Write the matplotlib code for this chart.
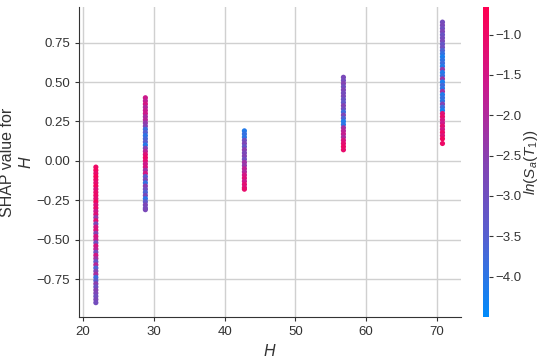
import matplotlib
matplotlib.use("Agg")
import matplotlib.pyplot as plt
from matplotlib.colors import LinearSegmentedColormap

# --- dados ---
x_niveis = [21.8, 28.8, 42.8, 56.8, 70.8]

y22 = [-0.04, -0.06, -0.08, -0.10, -0.12, -0.14, -0.16, -0.18, -0.20, -0.22,
       -0.24, -0.26, -0.28, -0.30, -0.32, -0.34, -0.36, -0.38, -0.40, -0.42,
       -0.44, -0.46, -0.48, -0.50, -0.52, -0.54, -0.56, -0.58, -0.60, -0.62,
       -0.64, -0.66, -0.68, -0.70, -0.72, -0.74, -0.76, -0.78, -0.80, -0.82,
       -0.84, -0.86, -0.88, -0.90]
c22 = [-1.0, -0.9, -1.1, -0.8, -1.0, -1.2, -0.9, -1.3, -1.1, -1.0,
       -1.2, -0.9, -1.4, -1.1, -1.6, -1.3, -2.4, -1.2, -2.8, -1.5,
       -1.3, -2.6, -1.4, -1.7, -3.0, -1.4, -1.8, -2.9, -1.5, -2.2,
       -3.2, -1.9, -3.6, -2.7, -2.1, -3.8, -3.4, -2.5, -3.1, -2.6,
       -2.7, -3.0, -2.8, -2.9]

y29 = [0.40, 0.38, 0.36, 0.34, 0.32, 0.30, 0.28, 0.26, 0.24, 0.22, 0.20,
       0.18, 0.16, 0.14, 0.12, 0.10, 0.08, 0.06, 0.04, 0.02, 0.00, -0.02,
       -0.04, -0.06, -0.08, -0.10, -0.12, -0.14, -0.16, -0.18, -0.20, -0.22,
       -0.24, -0.26, -0.28, -0.30, -0.31]
c29 = [-1.6, -1.8, -1.5, -2.0, -1.7, -1.6, -2.1, -1.9, -2.4, -2.6, -3.8,
       -3.5, -4.0, -3.7, -3.4, -4.1, -2.6, -1.9, -1.3, -1.0, -1.2, -1.6,
       -1.4, -2.2, -1.5, -3.4, -2.7, -3.9, -2.5, -3.0, -3.6, -2.8,
       -4.0, -3.3, -2.7, -2.9, -2.8]

y43 = [0.19, 0.17, 0.15, 0.13, 0.11, 0.09, 0.07, 0.05, 0.03, 0.01, -0.01,
       -0.03, -0.05, -0.07, -0.09, -0.11, -0.13, -0.15, -0.17, -0.18]
c43 = [-4.1, -3.9, -4.0, -3.0, -2.7, -3.2, -2.5, -2.8, -2.6, -3.0, -2.2,
       -2.4, -1.8, -2.0, -1.5, -1.3, -1.6, -1.2, -1.4, -1.1]

y57 = [0.53, 0.51, 0.49, 0.47, 0.45, 0.43, 0.41, 0.39, 0.37, 0.35, 0.33,
       0.31, 0.29, 0.27, 0.25, 0.23, 0.21, 0.19, 0.17, 0.15, 0.13, 0.11,
       0.09, 0.07]
c57 = [-2.8, -2.9, -2.6, -3.0, -2.7, -2.9, -2.8, -3.1, -3.3, -2.6, -3.0,
       -3.8, -2.7, -3.6, -4.1, -4.0, -2.2, -1.9, -1.7, -2.1, -1.4, -1.2,
       -1.0, -1.1]

y71 = [0.88, 0.86, 0.84, 0.82, 0.80, 0.78, 0.76, 0.74, 0.72, 0.70, 0.68,
       0.66, 0.64, 0.62, 0.60, 0.58, 0.56, 0.54, 0.52, 0.50, 0.48, 0.46,
       0.44, 0.42, 0.40, 0.38, 0.36, 0.34, 0.32, 0.30, 0.28, 0.26, 0.24,
       0.22, 0.20, 0.18, 0.16, 0.14, 0.11]
c71 = [-2.9, -2.8, -3.0, -2.7, -3.1, -2.9, -2.8, -3.2, -3.0, -3.6, -3.9,
       -4.2, -4.0, -3.8, -4.1, -2.4, -4.1, -3.9, -2.3, -4.2, -3.7, -4.0,
       -2.2, -4.1, -3.9, -4.0, -2.6, -3.8, -4.2, -1.3, -1.1, -1.4, -1.6,
       -1.2, -1.5, -1.0, -1.3, -0.9, -1.0]

ys = [y22, y29, y43, y57, y71]
cs = [c22, c29, c43, c57, c71]

cor_min, cor_max = -4.5, -0.66

# mapa de cores vermelho-azul no estilo SHAP
red_blue = LinearSegmentedColormap.from_list(
    "red_blue",
    [(0.0, 0.543, 0.983), (0.33, 0.38, 0.82), (0.52, 0.26, 0.70),
     (0.80, 0.10, 0.55), (1.0, 0.0, 0.318)])

plt.rcParams["font.family"] = ["Liberation Sans", "DejaVu Sans"]
plt.rcParams["mathtext.fontset"] = "custom"
plt.rcParams["mathtext.rm"] = "Liberation Sans"
plt.rcParams["mathtext.it"] = "Liberation Sans:italic"

fig = plt.figure(figsize=(5.39, 3.58), dpi=100)
ax = fig.add_axes([0.147, 0.115, 0.708, 0.865])
cax = fig.add_axes([0.896, 0.115, 0.011, 0.865])

for xv, yv, cv in zip(x_niveis, ys, cs):
    sc = ax.scatter([xv] * len(yv), yv, c=cv, cmap=red_blue,
                    vmin=cor_min, vmax=cor_max, s=14, linewidths=0, zorder=3)

ax.set_xlim(19.45, 73.4)
ax.set_ylim(-0.99, 0.975)
ax.set_xticks([20, 30, 40, 50, 60, 70])
ax.set_yticks([-0.75, -0.5, -0.25, 0.0, 0.25, 0.5, 0.75])
ax.set_yticklabels(["\u22120.75", "\u22120.50", "\u22120.25", "0.00", "0.25", "0.50", "0.75"])
ax.grid(True, color="#d0d0d0", linewidth=1.0, zorder=0)
ax.set_axisbelow(True)
ax.spines["top"].set_visible(False)
ax.spines["right"].set_visible(False)
ax.spines["left"].set_color("#333333")
ax.spines["bottom"].set_color("#333333")
ax.tick_params(labelsize=9.5, length=3, color="#333333", labelcolor="#333333")
ax.set_xlabel("$H$", fontsize=11.5, color="#333333")
ax.set_ylabel("SHAP value for\n$H$", fontsize=11.5, color="#333333", labelpad=2)

cb = fig.colorbar(sc, cax=cax)
cb.outline.set_visible(False)
cb.set_ticks([-1.0, -1.5, -2.0, -2.5, -3.0, -3.5, -4.0])
cb.set_ticklabels(["\u22121.0", "\u22121.5", "\u22122.0", "\u22122.5", "\u22123.0", "\u22123.5", "\u22124.0"])
cb.ax.tick_params(labelsize=9.5, length=3, pad=2, color="#333333", labelcolor="#333333")
cb.set_label("$ln(S_a(T_1))$", fontsize=11, color="#333333", labelpad=0)

fig.savefig("out.png", dpi=100)
